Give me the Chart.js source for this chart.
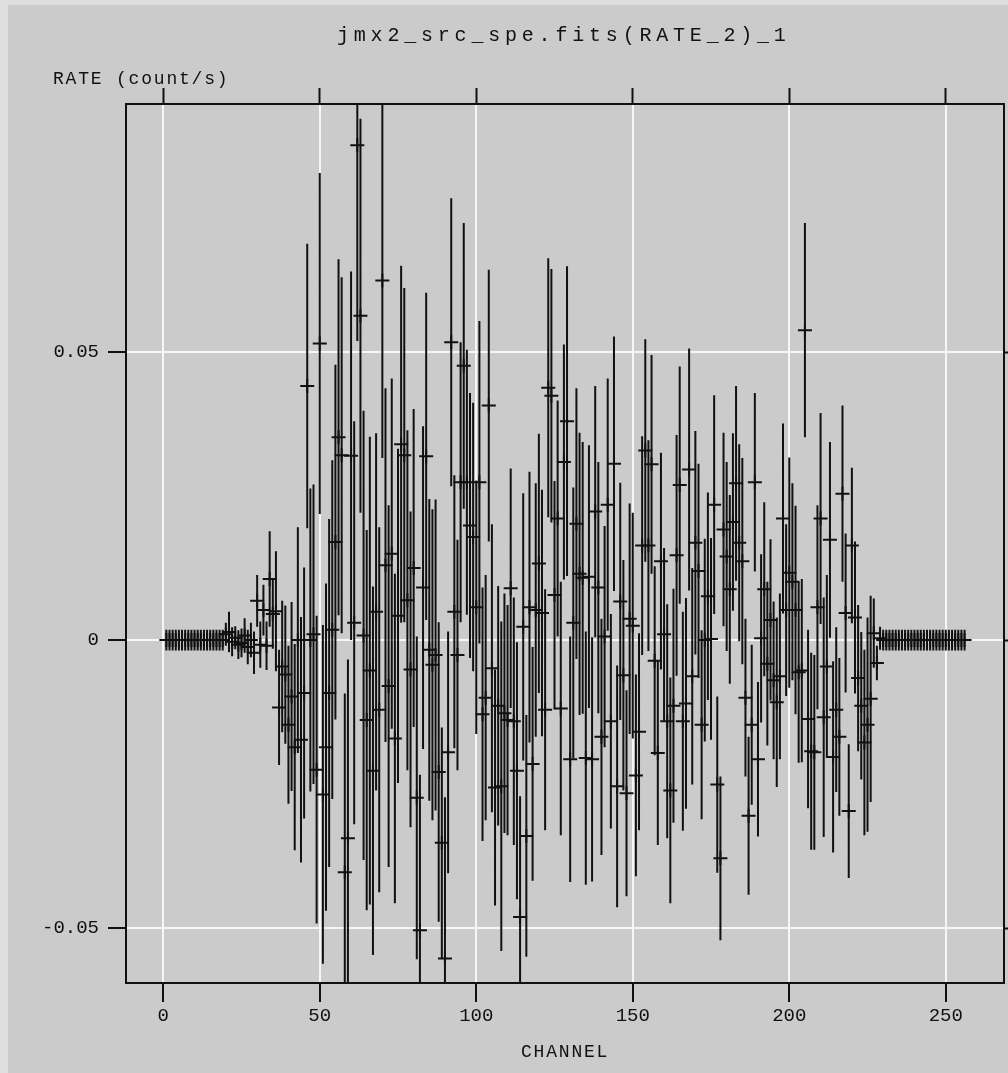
<!DOCTYPE html>
<html>
<head>
<meta charset="utf-8">
<title>jmx2_src_spe.fits(RATE_2)_1</title>
<script src="https://cdn.jsdelivr.net/npm/chart.js@4.4.1/dist/chart.umd.min.js"></script>
<style>
  html, body { margin: 0; padding: 0; background: #dedede; }
  #plot { display: block; }
</style>
</head>
<body>
<canvas id="plot" width="1008" height="1073"></canvas>
<script>
const TITLE = "jmx2_src_spe.fits(RATE_2)_1";
const X_LABEL = "CHANNEL";
const Y_LABEL = "RATE (count/s)";

const xTicks = [0, 50, 100, 150, 200, 250];
const yTicks = [-0.05, 0, 0.05];

const channel = [
  1, 2, 3, 4, 5, 6, 7, 8, 9, 10, 11, 12, 13, 14, 15, 16,
  17, 18, 19, 20, 21, 22, 23, 24, 25, 26, 27, 28, 29, 30, 31, 32,
  33, 34, 35, 36, 37, 38, 39, 40, 41, 42, 43, 44, 45, 46, 47, 48,
  49, 50, 51, 52, 53, 54, 55, 56, 57, 58, 59, 60, 61, 62, 63, 64,
  65, 66, 67, 68, 69, 70, 71, 72, 73, 74, 75, 76, 77, 78, 79, 80,
  81, 82, 83, 84, 85, 86, 87, 88, 89, 90, 91, 92, 93, 94, 95, 96,
  97, 98, 99, 100, 101, 102, 103, 104, 105, 106, 107, 108, 109, 110, 111, 112,
  113, 114, 115, 116, 117, 118, 119, 120, 121, 122, 123, 124, 125, 126, 127, 128,
  129, 130, 131, 132, 133, 134, 135, 136, 137, 138, 139, 140, 141, 142, 143, 144,
  145, 146, 147, 148, 149, 150, 151, 152, 153, 154, 155, 156, 157, 158, 159, 160,
  161, 162, 163, 164, 165, 166, 167, 168, 169, 170, 171, 172, 173, 174, 175, 176,
  177, 178, 179, 180, 181, 182, 183, 184, 185, 186, 187, 188, 189, 190, 191, 192,
  193, 194, 195, 196, 197, 198, 199, 200, 201, 202, 203, 204, 205, 206, 207, 208,
  209, 210, 211, 212, 213, 214, 215, 216, 217, 218, 219, 220, 221, 222, 223, 224,
  225, 226, 227, 228, 229, 230, 231, 232, 233, 234, 235, 236, 237, 238, 239, 240,
  241, 242, 243, 244, 245, 246, 247, 248, 249, 250, 251, 252, 253, 254, 255, 256
];

const rate = [
  0, 0, 0, 0, 0, 0, 0, 0, 0, 0, 0, 0, 0, 0, 0, 0,
  0, 0, 0, 0.001, 0.0014, -0.0003, 0.0004, -0.0008, -0.0005, 0.0008, -0.0012, 0, -0.0022, 0.0068, -0.0008, 0.0052,
  -0.001, 0.0106, 0.0045, 0.005, -0.0117, -0.0046, -0.006, -0.0147, -0.0098, -0.0186, 0, -0.0173, -0.0092, 0.0441, 0, 0.001,
  -0.0225, 0.0515, -0.0268, -0.0186, -0.0092, 0.0018, 0.017, 0.0352, 0.0321, -0.0403, -0.0344, 0.032, 0.003, 0.0859, 0.0563, 0.0008,
  -0.0139, -0.0053, -0.0227, 0.0049, -0.0121, 0.0624, 0.013, -0.008, 0.015, -0.0171, 0.0042, 0.034, 0.0321, 0.0069, -0.0051, 0.0125,
  -0.0274, -0.0504, 0.0091, 0.0319, -0.0017, -0.0043, -0.0026, -0.0229, -0.0352, -0.0553, -0.0195, 0.0517, 0.0049, -0.0026, 0.0274, 0.0476,
  0.0274, 0.0199, 0.0179, 0.0057, 0.0274, -0.0129, -0.01, 0.0407, -0.0049, -0.0256, -0.0114, -0.0254, -0.0127, -0.0139, 0.009, -0.0141,
  -0.0227, -0.0481, 0.0023, -0.034, 0.0057, -0.0215, 0.0052, 0.0133, 0.0047, -0.0121, 0.0438, 0.0424, 0.0078, 0.0211, -0.0119, 0.0309,
  0.038, -0.0207, 0.003, 0.0202, 0.0115, 0.0108, -0.0205, 0.011, -0.0207, 0.0223, 0.0091, -0.0168, 0.0006, 0.0235, -0.0141, 0.0306,
  -0.0254, 0.0067, -0.0061, -0.0266, 0.0037, 0.0025, -0.0235, -0.0159, 0.0164, 0.0329, 0.0164, 0.0305, -0.0036, -0.0196, 0.0137, 0.001,
  -0.0141, -0.0261, -0.0114, 0.0147, 0.0269, -0.0141, -0.011, 0.0296, -0.0063, 0.0169, 0.012, -0.0147, 0, 0.0076, 0.0002, 0.0235,
  -0.0251, -0.0379, 0.0192, 0.0145, 0.0088, 0.0205, 0.0272, 0.0169, 0.0137, -0.01, -0.0305, -0.0147, 0.0274, -0.0207, 0.0003, 0.0088,
  -0.0041, 0.0035, -0.007, -0.0108, -0.0063, 0.0211, 0.0052, 0.0117, 0.0101, 0.0052, -0.0056, -0.0053, 0.0538, -0.0137, -0.0193, -0.0195,
  0.0057, 0.0211, -0.0134, -0.0046, 0.0174, -0.0203, -0.0121, -0.0168, 0.0254, 0.0047, -0.0297, 0.0164, 0.0039, -0.0066, -0.0114, -0.0178,
  -0.0147, -0.0102, 0.0012, -0.004, 0.0003, 0, 0, 0, 0, 0, 0, 0, 0, 0, 0, 0,
  0, 0, 0, 0, 0, 0, 0, 0, 0, 0, 0, 0, 0, 0, 0, 0
];

const rateErr = [
  0.0018, 0.0018, 0.0018, 0.0018, 0.0018, 0.0018, 0.0018, 0.0018, 0.0018, 0.0018, 0.0018, 0.0018, 0.0018, 0.0018, 0.0018, 0.0018,
  0.0018, 0.0018, 0.0018, 0.002, 0.0035, 0.0025, 0.002, 0.0025, 0.0025, 0.003, 0.003, 0.003, 0.0037, 0.0045, 0.004, 0.0044,
  0.0042, 0.0083, 0.006, 0.0104, 0.01, 0.0114, 0.012, 0.0137, 0.0164, 0.0179, 0.0196, 0.0213, 0.0218, 0.0247, 0.0263, 0.026,
  0.0267, 0.0296, 0.0294, 0.0284, 0.0302, 0.0294, 0.0308, 0.0309, 0.0309, 0.031, 0.031, 0.032, 0.035, 0.034, 0.0342, 0.039,
  0.033, 0.0406, 0.032, 0.031, 0.0317, 0.0308, 0.0307, 0.0314, 0.0304, 0.0286, 0.029, 0.031, 0.029, 0.0295, 0.0274, 0.0276,
  0.028, 0.027, 0.028, 0.0284, 0.0262, 0.027, 0.027, 0.026, 0.02, 0.028, 0.021, 0.025, 0.0237, 0.02, 0.0243, 0.0248,
  0.023, 0.023, 0.0233, 0.022, 0.028, 0.022, 0.0213, 0.0236, 0.025, 0.0205, 0.0208, 0.0286, 0.0208, 0.02, 0.0208, 0.0215,
  0.0223, 0.021, 0.0232, 0.021, 0.0235, 0.0203, 0.022, 0.0225, 0.0214, 0.0209, 0.0225, 0.022, 0.0198, 0.0205, 0.022, 0.0204,
  0.0269, 0.0213, 0.0235, 0.0235, 0.0245, 0.0236, 0.022, 0.0228, 0.0212, 0.0218, 0.0218, 0.0205, 0.0192, 0.0219, 0.0186, 0.0221,
  0.021, 0.0206, 0.02, 0.0179, 0.02, 0.0196, 0.0175, 0.0171, 0.019, 0.0193, 0.0183, 0.019, 0.0164, 0.016, 0.0188, 0.015,
  0.0203, 0.0196, 0.0203, 0.0209, 0.0206, 0.019, 0.0183, 0.021, 0.0188, 0.0194, 0.0186, 0.0164, 0.0176, 0.018, 0.0175, 0.019,
  0.0153, 0.0142, 0.0168, 0.0164, 0.0164, 0.0154, 0.0169, 0.0171, 0.0179, 0.0137, 0.0137, 0.0139, 0.0155, 0.0134, 0.0146, 0.0151,
  0.0142, 0.014, 0.0137, 0.0147, 0.0144, 0.0165, 0.0149, 0.02, 0.0171, 0.0181, 0.0157, 0.0159, 0.0186, 0.0155, 0.0171, 0.0169,
  0.0177, 0.0183, 0.0208, 0.0159, 0.017, 0.0166, 0.0143, 0.0137, 0.0153, 0.0138, 0.0116, 0.0135, 0.0132, 0.0127, 0.0128, 0.0161,
  0.0186, 0.0179, 0.006, 0.003, 0.002, 0.0018, 0.0018, 0.0018, 0.0018, 0.0018, 0.0018, 0.0018, 0.0018, 0.0018, 0.0018, 0.0018,
  0.0018, 0.0018, 0.0018, 0.0018, 0.0018, 0.0018, 0.0018, 0.0018, 0.0018, 0.0018, 0.0018, 0.0018, 0.0018, 0.0018, 0.0018, 0.0018
];

const INK = "#111111";
const PANEL = "#cbcbcb";
const MONO = '"Liberation Mono", "DejaVu Sans Mono", monospace';

const points = channel.map((c, i) => ({ x: c, y: rate[i], err: rateErr[i] }));
const fixedTicks = (values) => (scale) => {
  scale.ticks = values.map((v) => ({ value: v }));
};

// grey panel with a lighter frame along the top and left edge
const panel = {
  id: "panel",
  beforeDraw(chart) {
    const { ctx, width, height } = chart;
    ctx.save();
    ctx.fillStyle = "#dedede";
    ctx.fillRect(0, 0, width, height);
    ctx.fillStyle = PANEL;
    ctx.fillRect(8, 5, width - 8, height - 5);
    ctx.restore();
  },
};

// vertical 1-sigma bars, clipped to the frame
const errorBars = {
  id: "errorBars",
  beforeDatasetsDraw(chart) {
    const { ctx, chartArea: a, scales } = chart;
    ctx.save();
    ctx.beginPath();
    ctx.rect(a.left, a.top, a.right - a.left, a.bottom - a.top);
    ctx.clip();
    ctx.strokeStyle = INK;
    ctx.lineWidth = 2;
    ctx.beginPath();
    for (const p of points) {
      const x = scales.x.getPixelForValue(p.x);
      ctx.moveTo(x, scales.y.getPixelForValue(p.y + p.err));
      ctx.lineTo(x, scales.y.getPixelForValue(p.y - p.err));
    }
    ctx.stroke();
    ctx.restore();
  },
};

// title and axis names in the spaced typewriter style
const captions = {
  id: "captions",
  afterDraw(chart) {
    const { ctx } = chart;
    ctx.save();
    ctx.fillStyle = INK;
    ctx.textAlign = "left";
    ctx.textBaseline = "alphabetic";
    ctx.font = "20px " + MONO;
    ctx.letterSpacing = "4.8px";
    ctx.fillText(TITLE, 337, 41);
    ctx.font = "18px " + MONO;
    ctx.letterSpacing = "1.8px";
    ctx.fillText(Y_LABEL, 53, 83.5);
    ctx.fillText(X_LABEL, 521, 1056.5);
    ctx.letterSpacing = "0px";
    ctx.restore();
  },
};

const tickFont = { family: MONO, size: 19 };

new Chart(document.getElementById("plot"), {
  type: "scatter",
  data: {
    datasets: [
      {
        data: points,
        pointStyle: "cross",
        pointRadius: 7,
        pointHoverRadius: 7,
        pointBorderWidth: 2,
        borderColor: INK,
        backgroundColor: INK,
      },
    ],
  },
  options: {
    responsive: false,
    animation: false,
    events: [],
    layout: { padding: 0, autoPadding: false },
    plugins: { legend: { display: false }, tooltip: { enabled: false } },
    scales: {
      x: {
        type: "linear",
        position: "bottom",
        min: -11.9,
        max: 268.6,
        afterBuildTicks: fixedTicks(xTicks),
        afterFit: (s) => { s.height = 90; },
        grid: { color: "#f6f6f6", lineWidth: 2, tickColor: INK, tickWidth: 2, tickLength: 19 },
        border: { color: INK, width: 2 },
        ticks: { font: tickFont, color: INK, padding: 3, maxRotation: 0, autoSkip: false },
      },
      xTop: {
        type: "linear",
        position: "top",
        min: -11.9,
        max: 268.6,
        afterBuildTicks: fixedTicks(xTicks),
        afterFit: (s) => { s.height = 104; },
        grid: { drawOnChartArea: false, tickColor: INK, tickWidth: 2, tickLength: 16 },
        border: { color: INK, width: 2 },
        ticks: { display: false },
      },
      y: {
        type: "linear",
        position: "left",
        min: -0.05954,
        max: 0.09306,
        afterBuildTicks: fixedTicks(yTicks),
        afterFit: (s) => { s.width = 126; },
        grid: { color: "#f6f6f6", lineWidth: 2, tickColor: INK, tickWidth: 2, tickLength: 18 },
        border: { color: INK, width: 2 },
        ticks: { font: tickFont, color: INK, padding: 9, callback: (v) => String(v) },
      },
      yRight: {
        type: "linear",
        position: "right",
        min: -0.05954,
        max: 0.09306,
        afterBuildTicks: fixedTicks(yTicks),
        afterFit: (s) => { s.width = 4; },
        grid: { drawOnChartArea: false, tickColor: INK, tickWidth: 2, tickLength: 10 },
        border: { color: INK, width: 2 },
        ticks: { display: false },
      },
    },
  },
  plugins: [panel, errorBars, captions],
});
</script>
</body>
</html>
